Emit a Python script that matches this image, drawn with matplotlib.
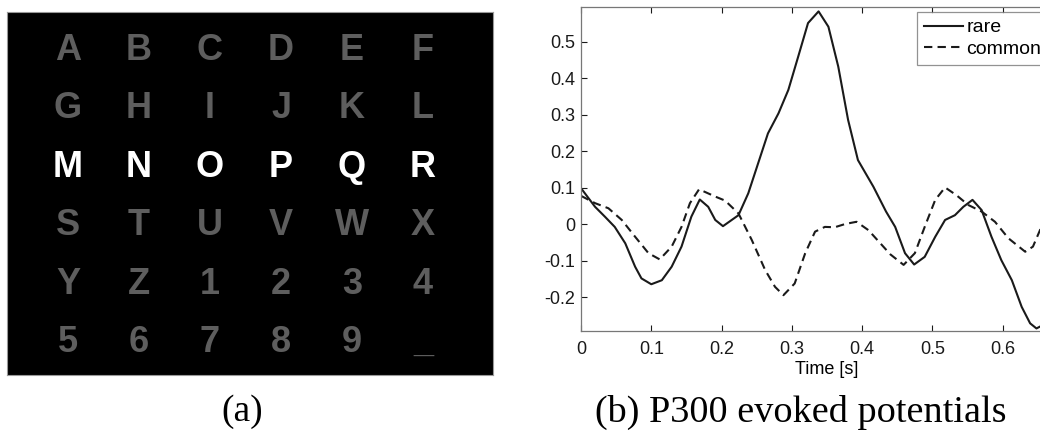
import matplotlib
matplotlib.use("Agg")
import matplotlib.pyplot as plt

# speller matrix
symbols = [
    ["A", "B", "C", "D", "E", "F"],
    ["G", "H", "I", "J", "K", "L"],
    ["M", "N", "O", "P", "Q", "R"],
    ["S", "T", "U", "V", "W", "X"],
    ["Y", "Z", "1", "2", "3", "4"],
    ["5", "6", "7", "8", "9", "_"],
]
highlight_row = 2

# evoked potentials
t_rare = [0.0, 0.02, 0.034, 0.048, 0.063, 0.077, 0.086, 0.1, 0.115, 0.129,
          0.143, 0.157, 0.169, 0.181, 0.191, 0.202, 0.224, 0.238, 0.252, 0.266,
          0.281, 0.295, 0.309, 0.323, 0.338, 0.352, 0.366, 0.380, 0.394, 0.416,
          0.434, 0.447, 0.461, 0.474, 0.489, 0.504, 0.518, 0.532, 0.544, 0.557,
          0.570, 0.584, 0.598, 0.613, 0.627, 0.639, 0.648, 0.656]
rare = [0.099, 0.048, 0.021, -0.007, -0.052, -0.116, -0.148, -0.164, -0.153, -0.116,
        -0.061, 0.021, 0.068, 0.048, 0.012, -0.005, 0.025, 0.085, 0.167, 0.249,
        0.304, 0.368, 0.459, 0.551, 0.583, 0.541, 0.432, 0.286, 0.176, 0.103,
        0.035, -0.007, -0.079, -0.110, -0.089, -0.034, 0.012, 0.025, 0.048, 0.067,
        0.039, -0.034, -0.098, -0.153, -0.226, -0.271, -0.285, -0.277]

t_common = [0.0, 0.02, 0.039, 0.058, 0.077, 0.096, 0.112, 0.129, 0.143, 0.155,
            0.168, 0.191, 0.205, 0.224, 0.243, 0.262, 0.276, 0.288, 0.304, 0.319,
            0.333, 0.347, 0.361, 0.376, 0.392, 0.409, 0.425, 0.440, 0.459, 0.475,
            0.489, 0.504, 0.518, 0.534, 0.551, 0.570, 0.589, 0.608, 0.632, 0.643,
            0.653, 0.66]
common = [0.078, 0.058, 0.044, 0.012, -0.034, -0.079, -0.096, -0.061, -0.007, 0.058,
          0.096, 0.076, 0.065, 0.030, -0.043, -0.125, -0.171, -0.194, -0.162, -0.079,
          -0.020, -0.007, -0.008, 0.001, 0.007, -0.016, -0.050, -0.082, -0.111, -0.079,
          -0.007, 0.067, 0.101, 0.080, 0.053, 0.035, 0.007, -0.038, -0.075, -0.061,
          -0.016, 0.02]

W, H = 1040, 432
fig = plt.figure(figsize=(W / 100, H / 100), dpi=100)


def rect(x0, y0, x1, y1):
    return [x0 / W, 1 - y1 / H, (x1 - x0) / W, (y1 - y0) / H]


# (a) matrix
ax1 = fig.add_axes(rect(7, 12, 493, 375))
ax1.set_facecolor("black")
ax1.set_xlim(0, 1)
ax1.set_ylim(0, 1)
ax1.set_xticks([])
ax1.set_yticks([])
for s in ax1.spines.values():
    s.set_color("#999999")
    s.set_linewidth(0.8)
for i, row in enumerate(symbols):
    for j, ch in enumerate(row):
        color = "white" if i == highlight_row else "#5e5e5e"
        ax1.text((61 + 71 * j) / 486, 1 - (38 + 58.6 * i) / 363, ch,
                 color=color, fontsize=26, fontweight="bold",
                 family="Liberation Sans", ha="center", va="center")

# (b) P300 curves, axes run past the right edge like in the original
ax2 = fig.add_axes(rect(581, 7, 1073, 331))
ax2.plot(t_rare, rare, color="#1a1a1a", lw=1.5, label="rare")
ax2.plot(t_common, common, color="#1a1a1a", lw=1.5, ls="--", dashes=(4, 2.5),
         label="common")
ax2.set_xlim(0, 0.7)
ax2.set_ylim(-0.292, 0.595)
ax2.set_xticks([0, 0.1, 0.2, 0.3, 0.4, 0.5, 0.6])
ax2.set_xticklabels(["0", "0.1", "0.2", "0.3", "0.4", "0.5", "0.6"])
ax2.set_yticks([-0.2, -0.1, 0, 0.1, 0.2, 0.3, 0.4, 0.5])
ax2.set_yticklabels(["-0.2", "-0.1", "0", "0.1", "0.2", "0.3", "0.4", "0.5"])
ax2.tick_params(direction="in", top=True, right=True, length=4,
                labelsize=13, colors="#1a1a1a", width=0.8)
ax2.tick_params(axis="x", pad=7)
ax2.tick_params(axis="y", pad=4)
for lab in ax2.get_xticklabels() + ax2.get_yticklabels():
    lab.set_family("Liberation Sans")
for s in ax2.spines.values():
    s.set_color("#777777")
    s.set_linewidth(0.9)
ax2.set_xlabel("Time [s]", fontsize=13, family="Liberation Sans", labelpad=2)
leg = ax2.legend(loc="upper left", bbox_to_anchor=(917 / W, 1 - 12 / H),
                 bbox_transform=fig.transFigure, frameon=True, fancybox=False,
                 prop={"family": "Liberation Sans", "size": 14},
                 handlelength=2.0, handletextpad=0.2, borderpad=0.35,
                 labelspacing=0.2, borderaxespad=0)
leg.get_frame().set_edgecolor("#777777")
leg.get_frame().set_linewidth(0.9)

# captions
fig.text(242 / W, 1 - 412 / H, "(a)", fontsize=27, family="Liberation Serif",
         ha="center", va="center")
fig.text(801 / W, 1 - 412 / H, "(b) P300 evoked potentials", fontsize=27.5,
         family="Liberation Serif", ha="center", va="center")

fig.savefig("out.png", dpi=100)
